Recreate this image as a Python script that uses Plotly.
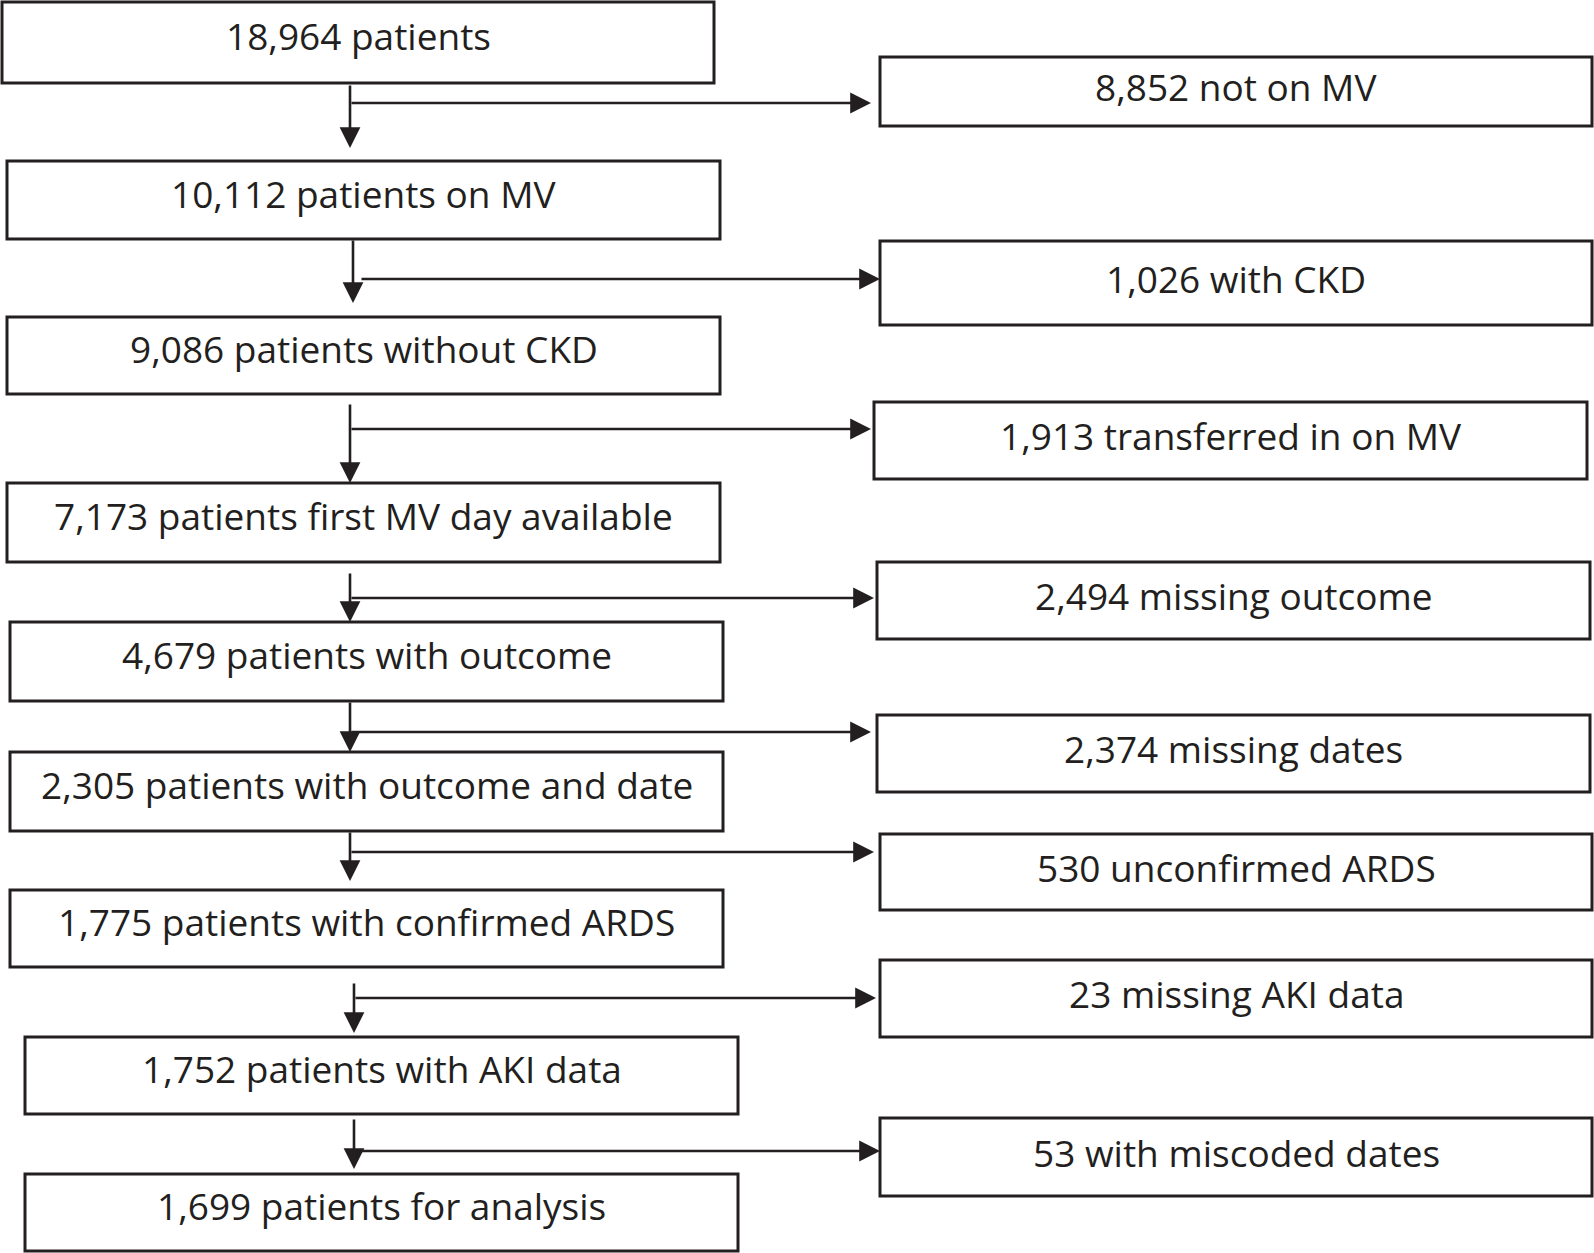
import plotly.graph_objects as go

# ---- data ----
main_counts = [18964, 10112, 9086, 7173, 4679, 2305, 1775, 1752, 1699]
main_labels = ["patients", "patients on MV", "patients without CKD",
               "patients first MV day available", "patients with outcome",
               "patients with outcome and date", "patients with confirmed ARDS",
               "patients with AKI data", "patients for analysis"]
excl_counts = [8852, 1026, 1913, 2494, 2374, 530, 23, 53]
excl_labels = ["not on MV", "with CKD", "transferred in on MV", "missing outcome",
               "missing dates", "unconfirmed ARDS", "missing AKI data",
               "with miscoded dates"]

# ---- layout geometry (pixels) ----
W, H = 1594, 1253
main_boxes = [(2, 714, 2, 83), (7, 720, 161, 239), (7, 720, 317, 394),
              (7, 720, 483, 562), (10, 723, 622, 701), (10, 723, 752, 831),
              (10, 723, 890, 967), (25, 738, 1037, 1114), (25, 738, 1174, 1251)]
excl_boxes = [(880, 1592, 57, 126), (880, 1592, 241, 325), (874, 1587, 402, 479),
              (877, 1590, 562, 639), (877, 1590, 715, 792), (880, 1592, 834, 910),
              (880, 1592, 960, 1037), (880, 1592, 1118, 1196)]
# vertical arrow: x, y_start, y_end ; horizontal branch: y, x_start, x_end
v_arrows = [(350, 84, 148), (353, 239, 303), (350, 403, 483), (350, 572, 622),
            (350, 701, 752), (350, 831, 881), (354, 982, 1033), (354, 1118, 1169)]
h_arrows = [(103, 350, 871), (279, 360, 880), (429, 350, 871), (598, 350, 874),
            (732, 350, 871), (852, 350, 874), (998, 354, 876), (1151, 360, 880)]

COL = "#231f20"
FONT = dict(family="Open Sans, Lato, sans-serif", size=37, color=COL, weight=500)

fig = go.Figure()
fig.add_trace(go.Scatter(x=[0, W], y=[0, H], mode="markers",
                         marker=dict(opacity=0), hoverinfo="skip", showlegend=False))

shapes, annotations = [], []

def add_box(box, text, dy):
    x0, x1, y0, y1 = box
    shapes.append(dict(type="rect", xref="x", yref="y", x0=x0, x1=x1, y0=y0, y1=y1,
                       line=dict(color=COL, width=3), fillcolor="white", layer="below"))
    annotations.append(dict(x=(x0 + x1) / 2, y=(y0 + y1) / 2 + dy, xref="x", yref="y",
                            text=text, showarrow=False, font=FONT,
                            xanchor="center", yanchor="middle"))

for box, n, lab in zip(main_boxes, main_counts, main_labels):
    add_box(box, f"{n:,} {lab}", -7)
for box, n, lab in zip(excl_boxes, excl_counts, excl_labels):
    add_box(box, f"{n:,} {lab}", -5)

def add_arrow(x0, y0, x1, y1):
    annotations.append(dict(x=x1, y=y1, ax=x0, ay=y0, xref="x", yref="y",
                            axref="x", ayref="y", text="", showarrow=True,
                            arrowhead=2, arrowsize=1.6, arrowwidth=2.6,
                            arrowcolor=COL, standoff=0, startstandoff=0))

for x, ys, ye in v_arrows:
    add_arrow(x, ys, x, ye)
for y, xs, xe in h_arrows:
    add_arrow(xs, y, xe, y)

fig.update_layout(
    width=W, height=H, margin=dict(l=0, r=0, t=0, b=0),
    paper_bgcolor="white", plot_bgcolor="white",
    xaxis=dict(range=[0, W], visible=False, fixedrange=True),
    yaxis=dict(range=[H, 0], visible=False, fixedrange=True),
    shapes=shapes, annotations=annotations, showlegend=False,
)

fig.write_html("out.html", config={"displayModeBar": False},
               post_script="document.body.style.margin='0';document.body.style.overflow='hidden';")
